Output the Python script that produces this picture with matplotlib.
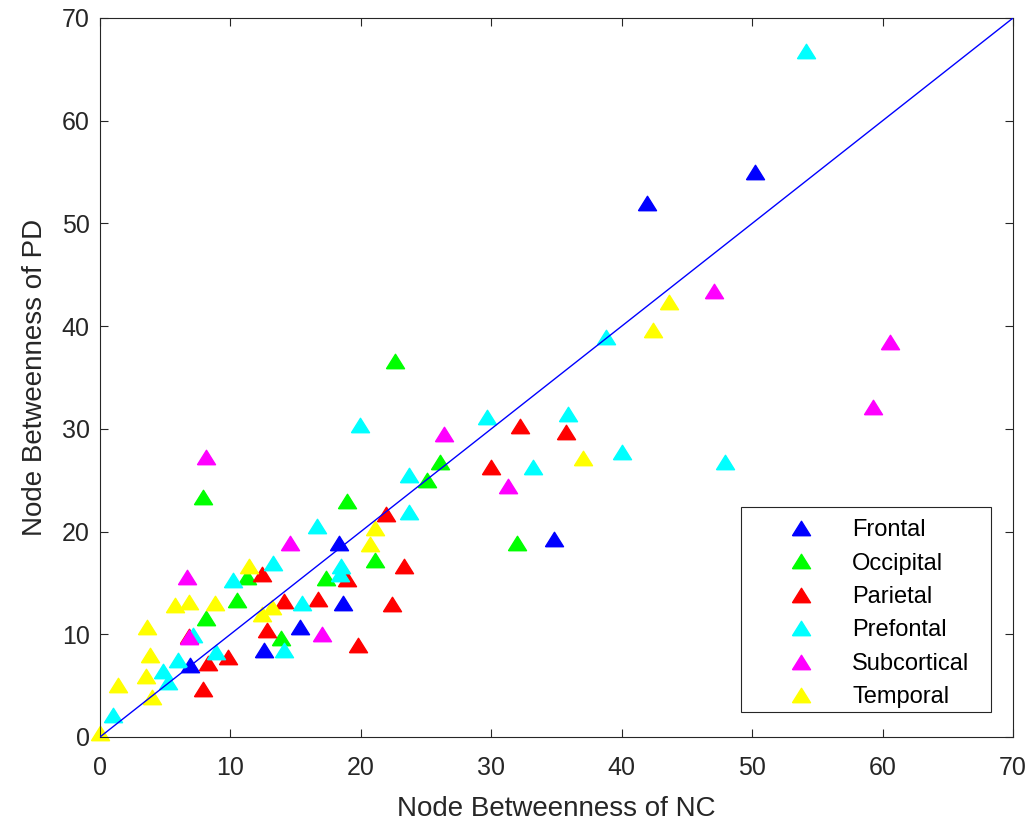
import numpy as np
import matplotlib
matplotlib.use("Agg")
from matplotlib import pyplot as plt
from matplotlib.patches import Rectangle

plt.rcParams['font.family'] = ['Liberation Sans', 'DejaVu Sans']

regions = ['Frontal', 'Occipital', 'Parietal', 'Prefontal', 'Subcortical', 'Temporal']
colors = ['#0000ff', '#00ff00', '#ff0000', '#00ffff', '#ff00ff', '#ffff00']

frontal_nc = [50.2, 41.9, 34.8, 18.3, 18.6, 15.3, 12.6, 6.9]
frontal_pd = [55.0, 52.0, 19.3, 18.9, 13.0, 10.7, 8.5, 7.0]

occipital_nc = [22.6, 7.9, 18.9, 26.1, 25.1, 32.0, 21.1, 17.3, 11.3, 10.5, 8.1, 13.9]
occipital_pd = [36.6, 23.4, 23.0, 26.8, 25.0, 18.9, 17.2, 15.5, 15.6, 13.3, 11.6, 9.6]

parietal_nc = [32.2, 35.7, 30.0, 21.9, 23.3, 18.9, 22.4, 16.7, 14.1, 12.4, 12.8, 19.8, 9.8, 8.3, 7.9, 6.8]
parietal_pd = [30.3, 29.7, 26.3, 21.7, 16.6, 15.4, 12.9, 13.4, 13.2, 15.9, 10.4, 9.0, 7.8, 7.2, 4.7, 9.8]

prefrontal_nc = [54.1, 38.8, 29.7, 35.9, 19.9, 40.0, 33.2, 23.7, 23.7, 47.9, 16.6, 13.3, 10.2,
                 18.5, 18.4, 15.5, 14.1, 8.9, 7.1, 6.0, 4.85, 5.2, 0.97]
prefrontal_pd = [66.8, 38.9, 31.2, 31.4, 30.4, 27.7, 26.3, 25.5, 21.9, 26.8, 20.5, 16.9, 15.3,
                 16.6, 15.9, 13.0, 8.5, 8.3, 9.9, 7.5, 6.4, 5.4, 2.1]

subcortical_nc = [47.1, 60.6, 59.3, 26.4, 31.3, 8.1, 14.6, 6.7, 17.05, 6.85]
subcortical_pd = [43.4, 38.5, 32.1, 29.5, 24.4, 27.3, 18.9, 15.6, 10.0, 9.7]

temporal_nc = [43.6, 42.4, 37.0, 21.1, 20.7, 11.4, 8.8, 6.8, 5.75, 13.2, 12.4, 3.6, 3.8, 3.5, 1.4, 3.96, 0.0]
temporal_pd = [42.3, 39.6, 27.2, 20.3, 18.8, 16.6, 13.0, 13.1, 12.85, 12.7, 12.0, 10.7, 8.0, 5.9, 5.1, 3.9, 0.4]

all_nc = [frontal_nc, occipital_nc, parietal_nc, prefrontal_nc, subcortical_nc, temporal_nc]
all_pd = [frontal_pd, occipital_pd, parietal_pd, prefrontal_pd, subcortical_pd, temporal_pd]

# MATLAB-style triangle: a bit wider than tall
tri = [(-1, -0.8), (1, -0.8), (0, 0.8), (-1, -0.8)]

fig = plt.figure(figsize=(10.35, 8.25), dpi=100)
ax = fig.add_axes([0.0966, 0.1067, 0.8822, 0.8715])

for nc, pd_, c, name in zip(all_nc, all_pd, colors, regions):
    ax.plot(nc, pd_, linestyle='none', marker=tri, markersize=13, color=c,
            markeredgecolor=c, label=name, clip_on=False)

ax.plot([0, 70], [0, 70], color='#0000ff', linewidth=1.0, zorder=5)

ax.set_xlim(0, 70)
ax.set_ylim(0, 70)
ax.set_xticks(np.arange(0, 71, 10))
ax.set_yticks(np.arange(0, 71, 10))
ax.tick_params(direction='in', top=True, right=True, length=6, width=0.8,
               labelsize=18, colors='#262626')
ax.tick_params(axis='x', pad=14)
ax.tick_params(axis='y', pad=7.5)
for s in ax.spines.values():
    s.set_color('#262626')
    s.set_linewidth(0.8)

ax.set_xlabel('Node Betweenness of NC', fontsize=20, color='#262626', labelpad=11)
ax.set_ylabel('Node Betweenness of PD', fontsize=20, color='#262626', labelpad=10)

# legend box drawn by hand so its size matches the wide MATLAB legend
ax.add_patch(Rectangle((0.7021, 0.0348), 0.2738, 0.2851, transform=ax.transAxes,
                       facecolor='white', edgecolor='#262626', linewidth=0.8,
                       zorder=6, clip_on=False))
leg = ax.legend(loc='upper left', bbox_to_anchor=(0.742, 0.303), fontsize=17,
                frameon=False, handlelength=2.0, handletextpad=1.16,
                labelspacing=0.485, borderpad=0, borderaxespad=0)
leg.set_zorder(7)

fig.savefig('out.png', dpi=100)
